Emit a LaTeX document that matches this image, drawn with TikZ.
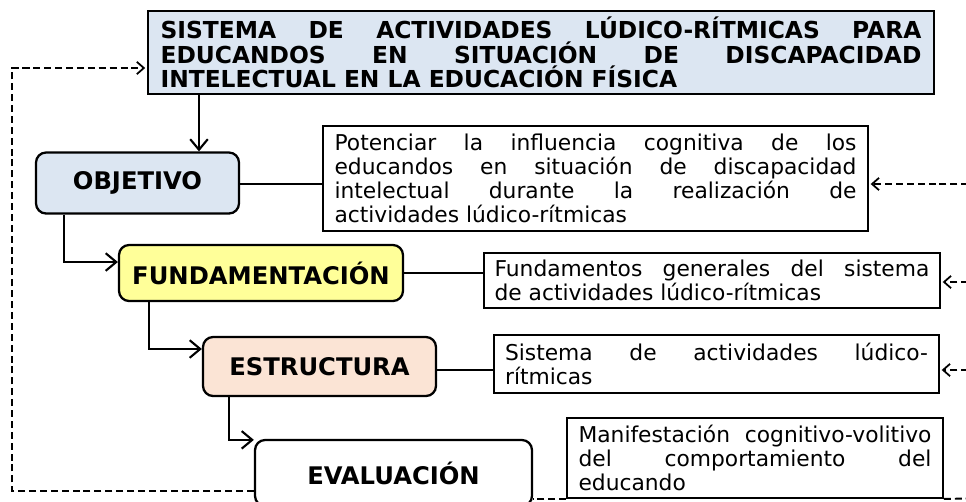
\documentclass[tikz,border=0pt]{standalone}
\usepackage{fontspec}
\setmainfont{DejaVu Sans}
\usepackage{xcolor}
\usetikzlibrary{arrows.meta, calc, positioning}

\definecolor{titleblue}{RGB}{220,230,242}
\definecolor{fundyellow}{RGB}{255,255,153}
\definecolor{estpeach}{RGB}{251,228,213}

\begin{document}
\begin{tikzpicture}[x=0.02cm, y=-0.02cm,
  stage/.style={draw, line width=1.3pt, rounded corners=0.2cm, font=\fontsize{13.8}{15}\selectfont\bfseries, align=center},
  note/.style={draw, line width=1.1pt, align=justify, inner ysep=0pt, font=\fontsize{12.4}{13.6}\selectfont},
  flow/.style={line width=1.4pt, -{Straight Barb[length=6pt,width=10pt,line width=1.2pt]}},
  fb/.style={line width=1.1pt, dash pattern=on 4pt off 2.2pt},
  fbarr/.style={fb, -{Straight Barb[length=4pt,width=7pt,line width=1pt,sep=1pt]}}]
\useasboundingbox (0,0) rectangle (966,501);
\clip (0,0) rectangle (966,501);

% Title
\node[draw, line width=1.3pt, fill=titleblue, text width=15.22cm, inner xsep=0.25cm, minimum height=1.62cm, align=justify, font=\fontsize{13.3}{13.9}\selectfont\bfseries] (title) at (541,52.5)
  {SISTEMA DE ACTIVIDADES LÚDICO-RÍTMICAS PARA\linebreak EDUCANDOS EN SITUACIÓN DE DISCAPACIDAD\linebreak INTELECTUAL EN LA EDUCACIÓN FÍSICA};

% Stages
\node[stage, fill=titleblue, minimum width=4.06cm, minimum height=1.22cm] (obj) at (137.5,183) {OBJETIVO};
\node[stage, fill=fundyellow, minimum width=5.68cm, minimum height=1.12cm] (fund) at (261,273) {FUNDAMENTACIÓN};
\node[stage, fill=estpeach, minimum width=4.66cm, minimum height=1.18cm] (est) at (319.5,366.5) {ESTRUCTURA};
\node[stage, fill=white, minimum width=5.54cm, minimum height=1.32cm] (eval) at (393.5,473) {EVALUACIÓN};

% Notes
\node[note, text width=10.44cm, inner xsep=0.23cm, minimum height=2.1cm] (objtxt) at (595.5,178.5)
  {Potenciar la influencia cognitiva de los\linebreak educandos en situación de discapacidad\linebreak intelectual durante la realización de\linebreak actividades lúdico-rítmicas};
\node[note, text width=8.7cm, inner xsep=0.21cm, minimum height=1.1cm] (fundtxt) at (712,280.5)
  {Fundamentos generales del sistema\linebreak de actividades lúdico-rítmicas};
\node[note, text width=8.46cm, inner xsep=0.22cm, minimum height=1.16cm] (esttxt) at (716.5,364)
  {Sistema de actividades lúdico-\linebreak rítmicas};
\node[note, text width=7.06cm, inner xsep=0.23cm, minimum height=1.6cm] (mantxt) at (755,458)
  {Manifestación cognitivo-volitivo\linebreak del comportamiento del\linebreak educando};

% Flow between stages
\coordinate (down) at (199,0);
\draw[flow] (title.south -| down) -- (obj.north -| down);
\draw[flow] ([xshift=0.58cm]obj.south west) |- ([yshift=0.22cm]fund.west);
\draw[flow] ([xshift=0.62cm]fund.south west) |- ([yshift=0.35cm]est.west);
\draw[flow] ([xshift=0.54cm]est.south west) |- ([yshift=-0.02cm]eval.north west);

% Stage to note
\draw[line width=1.1pt] ([yshift=-0.02cm]obj.east) -- ([yshift=-0.02cm]obj.east -| objtxt.west);
\draw[line width=1.1pt] (fund.east) -- (fund.east -| fundtxt.west);
\draw[line width=1.1pt] ([yshift=-0.07cm]est.east) -- ([yshift=-0.07cm]est.east -| esttxt.west);
\draw[fb] (mantxt.south west) -- (mantxt.south west -| eval.east);

% Feedback loops
\coordinate (rb) at (990,498);
\coordinate (r1) at (990,184);
\coordinate (r2) at (990,282);
\coordinate (r3) at (990,370);
\draw[fb] (mantxt.south east) -- (rb) -- (r1);
\draw[fbarr] (r1) -- (r1 -| objtxt.east);
\draw[fbarr] (r2) -- (r2 -| fundtxt.east);
\draw[fbarr] (r3) -- (r3 -| esttxt.east);

\coordinate (lb) at (12,491);
\draw[fbarr] (lb -| eval.west) -- (lb) |- ([yshift=-0.31cm]title.west);
\end{tikzpicture}
\end{document}
